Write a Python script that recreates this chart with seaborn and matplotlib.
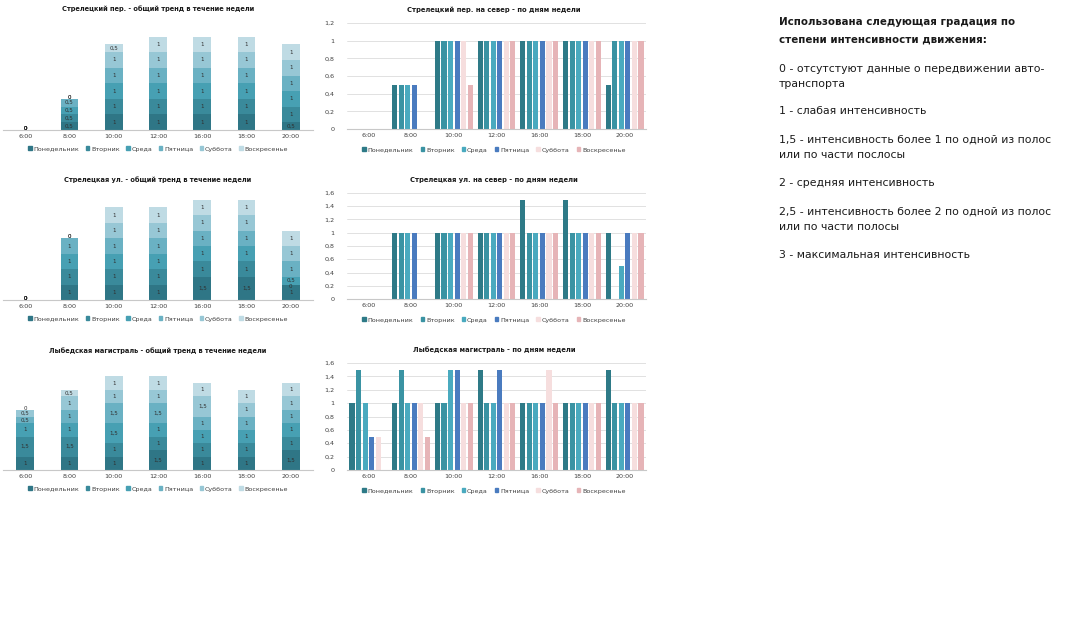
import numpy as np
import pandas as pd
import matplotlib
matplotlib.use('Agg')
import matplotlib.pyplot as plt
import seaborn as sns
from matplotlib.patches import Patch

times = ['6:00', '8:00', '10:00', '12:00', '16:00', '18:00', '20:00']
days = ['Понедельник', 'Вторник', 'Среда', 'Пятница', 'Суббота', 'Воскресенье']

# rows = days (Пн, Вт, Ср, Пт, Сб, Вс), columns = times
strel_per = [
    [0, 0.5, 1, 1, 1, 1, 0.5],
    [0, 0.5, 1, 1, 1, 1, 1],
    [0, 0.5, 1, 1, 1, 1, 1],
    [0, 0.5, 1, 1, 1, 1, 1],
    [0, 0, 1, 1, 1, 1, 1],
    [0, 0, 0.5, 1, 1, 1, 1],
]
strel_ul = [
    [0, 1, 1, 1, 1.5, 1.5, 1],
    [0, 1, 1, 1, 1, 1, 0],
    [0, 1, 1, 1, 1, 1, 0.5],
    [0, 1, 1, 1, 1, 1, 1],
    [0, 0, 1, 1, 1, 1, 1],
    [0, 0, 1, 1, 1, 1, 1],
]
lybed = [
    [1, 1, 1, 1.5, 1, 1, 1.5],
    [1.5, 1.5, 1, 1, 1, 1, 1],
    [1, 1, 1.5, 1, 1, 1, 1],
    [0.5, 1, 1.5, 1.5, 1, 1, 1],
    [0.5, 1, 1, 1, 1.5, 1, 1],
    [0, 0.5, 1, 1, 1, 1, 1],
]

left_titles = ['Стрелецкий пер. - общий тренд в течение недели',
               'Стрелецкая ул. - общий тренд в течение недели',
               'Лыбедская магистраль - общий тренд в течение недели']
right_titles = ['Стрелецкий пер. на север - по дням недели',
                'Стрелецкая ул. на север - по дням недели',
                'Лыбедская магистраль - по дням недели']

legend_text = [
    ('Использована следующая градация по', True, 22),
    ('степени интенсивности движения:', True, 39),
    ('0 - отсутстуют данные о передвижении авто-', False, 69),
    ('транспорта', False, 84),
    ('1 - слабая интенсивность', False, 111),
    ('1,5 - интенсивность более 1 по одной из полос', False, 140),
    ('или по части послосы', False, 155),
    ('2 - средняя интенсивность', False, 183),
    ('2,5 - интенсивность более 2 по одной из полос', False, 212),
    ('или по части полосы', False, 227),
    ('3 - максимальная интенсивность', False, 255),
]

stack_colors = ['#2f7686', '#3a8a9b', '#47a0b3', '#6ab1c3', '#97c7d5', '#bfdbe4']
group_colors = ['#2e7a87', '#3a93a3', '#4aaabf', '#4a7bbf', '#f6dede', '#e6b4b7']

W, H = 1074, 639
sns.set_theme(style='white')
plt.rcParams['font.family'] = ['DejaVu Sans']
fig = plt.figure(figsize=(W / 100, H / 100), dpi=100)


def px_axes(x0, x1, top, bottom):
    return fig.add_axes([x0 / W, 1 - bottom / H, (x1 - x0) / W, (bottom - top) / H])


def fmt(v):
    s = ('%g' % v)
    return s.replace('.', ',')


def stacked(data, top, bottom, ymax, title):
    ax = px_axes(3, 313, top, bottom)
    vals = np.array(data, dtype=float)
    cum = np.cumsum(vals, axis=0)
    # draw cumulative totals from the top day down, so segments stack
    for i in reversed(range(len(days))):
        sns.barplot(x=times, y=cum[i], color=stack_colors[i], width=0.4,
                    saturation=1, linewidth=0, ax=ax)
    for i in range(len(days)):
        for j in range(len(times)):
            v = vals[i, j]
            yc = cum[i, j] - v / 2
            off = 0
            if v == 0:
                # zero label sits on top of the stack, or squeezed under the next one
                off = 1 if vals[i:, j].sum() == 0 else -1.6
            ax.annotate(fmt(v), (j, yc), xytext=(0, off), textcoords='offset points',
                        ha='center', va='center', fontsize=4.0, color='#303030')
    ax.set_ylim(0, ymax)
    ax.set_xlim(-0.5, 6.5)
    ax.set_yticks([])
    ax.set_xlabel('')
    ax.set_ylabel('')
    for s in ['top', 'right', 'left']:
        ax.spines[s].set_visible(False)
    ax.spines['bottom'].set_color('#c8c8c8')
    ax.spines['bottom'].set_linewidth(0.8)
    ax.tick_params(axis='x', labelsize=4.6, colors='#404040', length=0, pad=3)
    fig.text(158 / W, 1 - (top - 12) / H, title, ha='center', va='center',
             fontsize=4.8, fontweight='bold', color='#1a1a1a')
    handles = [Patch(color=c, label=d) for c, d in zip(stack_colors, days)]
    fig.legend(handles=handles, loc='center', ncol=6, frameon=False,
               bbox_to_anchor=(158 / W, 1 - (bottom + 19) / H), fontsize=4.6,
               handlelength=0.55, handleheight=0.55, handletextpad=0.3,
               columnspacing=1.0, labelcolor='#404040')


def grouped(data, top, bottom, ymax, title):
    ax = px_axes(347, 646, top, bottom)
    df = pd.DataFrame({
        'time': np.tile(times, len(days)),
        'day': np.repeat(days, len(times)),
        'value': np.array(data, dtype=float).ravel(),
    })
    sns.barplot(data=df, x='time', y='value', hue='day', hue_order=days,
                order=times, palette=group_colors, saturation=1, width=0.92,
                gap=0.22, linewidth=0, legend=False, ax=ax)
    ax.set_ylim(0, ymax)
    ax.set_xlim(-0.5, 6.5)
    ticks = np.round(np.arange(0, ymax + 0.01, 0.2), 1)
    ax.set_yticks(ticks)
    ax.set_yticklabels([fmt(t) for t in ticks])
    ax.yaxis.grid(True, color='#dcdcdc', linewidth=0.6)
    ax.set_axisbelow(True)
    ax.set_xlabel('')
    ax.set_ylabel('')
    for s in ['top', 'right', 'left']:
        ax.spines[s].set_visible(False)
    ax.spines['bottom'].set_color('#c8c8c8')
    ax.spines['bottom'].set_linewidth(0.8)
    ax.tick_params(axis='both', labelsize=4.6, colors='#404040', length=0, pad=3)
    ax.tick_params(axis='y', pad=9)
    fig.text(494 / W, 1 - (top - 13) / H, title, ha='center', va='center',
             fontsize=4.85, fontweight='bold', color='#1a1a1a')
    handles = [Patch(color=c, label=d) for c, d in zip(group_colors, days)]
    fig.legend(handles=handles, loc='center', ncol=6, frameon=False,
               bbox_to_anchor=(494 / W, 1 - (bottom + 21) / H), fontsize=4.6,
               handlelength=0.55, handleheight=0.55, handletextpad=0.3,
               columnspacing=1.1, labelcolor='#404040')


stacked(strel_per, 21, 130, 7, left_titles[0])
stacked(strel_ul, 192, 300, 7, left_titles[1])
stacked(lybed, 363, 470, 8, left_titles[2])

grouped(strel_per, 23, 129, 1.2, right_titles[0])
grouped(strel_ul, 193, 299, 1.6, right_titles[1])
grouped(lybed, 363, 470, 1.6, right_titles[2])

for txt, bold, y in legend_text:
    fig.text(779 / W, 1 - y / H, txt, ha='left', va='center',
             fontsize=7.35 if bold else 7.8,
             fontweight='bold' if bold else 'normal', color='#1a1a1a')

fig.savefig('out.png', dpi=100, facecolor='white')
